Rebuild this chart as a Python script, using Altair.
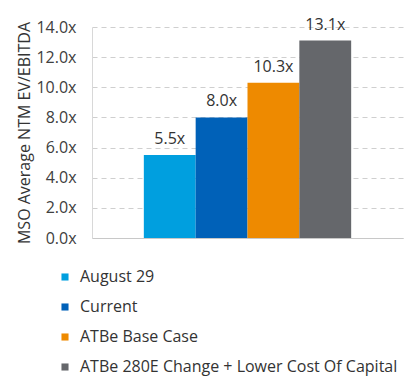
import altair as alt
import pandas as pd

series = ["August 29", "Current", "ATBe Base Case", "ATBe 280E Change + Lower Cost Of Capital"]
values = [5.5, 8.0, 10.3, 13.1]
labels = ["5.5x", "8.0x", "10.3x", "13.1x"]
colors = ["#009FDF", "#0061B8", "#EE8A00", "#65676B"]
y_ticks = [0, 2, 4, 6, 8, 10, 12, 14]

df = pd.DataFrame({"series": series, "value": values, "label": labels})

x = alt.X("series:N", sort=series,
          scale=alt.Scale(paddingInner=0, paddingOuter=1),
          axis=alt.Axis(title=None, labels=False, ticks=False, grid=False,
                        domain=True, domainColor="#C8C8C8"))
y = alt.Y("value:Q",
          scale=alt.Scale(domain=[0, 14]),
          axis=alt.Axis(title="MSO Average NTM EV/EBITDA", values=y_ticks,
                        labelExpr="format(datum.value, '.1f') + 'x'",
                        labelOverlap=False, labelSeparation=0,
                        grid=True, gridDash=[5, 4], gridColor="#CFCFCF",
                        domain=True, domainColor="#D8D8D8", ticks=False,
                        labelPadding=16, labelFontSize=16, labelColor="#404040",
                        titleFontSize=16, titleFontWeight="normal", titleColor="#333333",
                        titlePadding=3, labelFont="Open Sans", titleFont="Open Sans"))

base = alt.Chart(df).encode(x=x, y=y)

bars = base.mark_bar().encode(
    color=alt.Color("series:N", sort=series,
                    scale=alt.Scale(domain=series, range=colors),
                    legend=alt.Legend(title=None, orient="none", legendX=-35, legendY=242,
                                      direction="vertical", symbolType="square",
                                      symbolSize=50, labelFontSize=16, labelFont="Open Sans",
                                      labelColor="#333333", rowPadding=14, labelOffset=7,
                                      labelLimit=400, symbolStrokeWidth=0))
)

text = base.mark_text(dy=-8, fontSize=16, font="Open Sans", color="#333333",
                      baseline="bottom").encode(text="label:N")

chart = alt.layer(bars, text).properties(
    width=311, height=211,
    autosize=alt.AutoSizeParams(type="none"),
    padding={"left": 84, "top": 19, "right": 3, "bottom": 138}
).configure_view(stroke=None)

chart.save("out.html", embed_options={"renderer": "svg", "actions": False})
